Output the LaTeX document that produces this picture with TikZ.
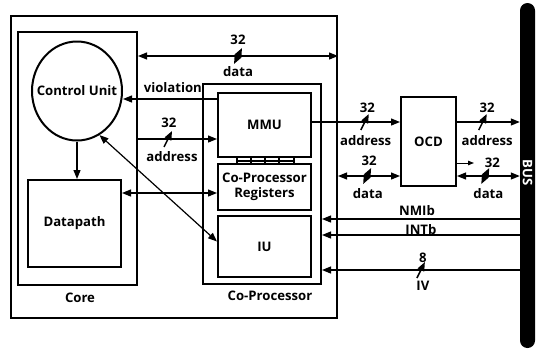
\documentclass[tikz,border=0pt]{standalone}
\usepackage{fontspec}
\setmainfont{Open Sans}
\usetikzlibrary{arrows.meta,shapes.geometric}

\begin{document}
\begin{tikzpicture}[x=1bp,y=-1bp,
      font=\fontsize{13.2}{15.5}\selectfont\bfseries,
      blk/.style={draw,line width=2bp,inner sep=0pt},
      ar/.style={line width=1.2bp,-{Triangle[length=9bp,width=7bp]}},
      dar/.style={line width=1.2bp,{Triangle[length=9bp,width=7bp]}-{Triangle[length=9bp,width=7bp]}},
      minitip/.style={line width=1bp,-{Triangle[length=6bp,width=4.5bp]}},
      slash/.pic={\draw[line width=1.5bp] (-4,8) -- (4,-8);}]
    \useasboundingbox (0,0) rectangle (536,351);
    % frames
    \node[blk,minimum width=326bp,minimum height=302bp] (sys) at (174,167) {};
    \node[blk,minimum width=119bp,minimum height=253bp] (core) at (77.5,158.5) {};
    \node[blk,minimum width=118bp,minimum height=200bp] (cop) at (262,184) {};
    \node (corel) at (80,298) {Core};
    \node (copl) at (270,296) {Co-Processor};
    % core blocks
    \node[blk,ellipse,minimum width=90bp,minimum height=99bp] (cu) at (77,91) {};
    \node (cul) at (cu.center) {Control Unit};
    \node[blk,minimum width=93bp,minimum height=87bp] (dp) at (74.5,223.5) {Datapath};
    % co-processor blocks
    \node[blk,minimum width=93bp,minimum height=64bp] (mmu) at (264.5,125) {MMU};
    \node[blk,minimum width=93bp,minimum height=46bp,align=center] (reg) at (264.5,187)
      {Co-Processor\\Registers};
    \node[blk,minimum width=93bp,minimum height=61bp] (iu) at (264.5,246.5) {IU};
    \foreach \x in {237,251,265,279,294} {
      \draw[line width=1.2bp] (mmu.south -| \x,0) -- (reg.north -| \x,0);}
    \draw[line width=1.2bp] (237,161) -- (294,161);
    % debugger and bus
    \node[blk,minimum width=55bp,minimum height=89bp] (ocd) at (428.5,141.5) {OCD};
    \node[fill=black,rounded corners=7.5bp,minimum width=15bp,minimum height=345bp,
          inner sep=0pt] (bus) at (527.5,175.5) {};
    \node[text=white,rotate=-90] (busl) at (527.5,173) {BUS};
    % signal levels
    \coordinate (yD) at (0,56);
    \coordinate (yV) at (0,99);
    \coordinate (yO) at (0,122);
    \coordinate (yA) at (0,139);
    \coordinate (yS) at (0,163);
    \coordinate (yE) at (0,176);
    \coordinate (yR) at (0,193);
    \coordinate (yN) at (0,219);
    \coordinate (yI) at (0,235);
    \coordinate (yQ) at (0,270);
    \coordinate (stub) at (474,163);
    % core side
    \draw[dar] (core.east |- yD) -- (sys.east |- yD) pic[pos=.5]{slash}
      node[pos=.5,yshift=16bp]{32} node[pos=.5,yshift=-16bp]{data};
    \draw[ar] (mmu.west |- yV) -- (cu.east |- yV)
      node[pos=.47,yshift=11bp]{violation};
    \draw[ar] (core.east |- yA) -- (mmu.west |- yA) pic[pos=.38]{slash}
      node[pos=.39,yshift=16bp]{32} node[pos=.43,yshift=-18bp]{address};
    \draw[dar] (cu.-63) -- (iu.174);
    \draw[ar] (cu.south) -- (dp.north -| cu.south);
    \draw[dar] (dp.east |- yR) -- (reg.west |- yR);
    % debugger side
    \draw[ar] (mmu.east |- yO) -- (ocd.west |- yO) pic[pos=.6]{slash}
      node[pos=.63,yshift=14bp]{32} node[pos=.61,yshift=-19bp]{address};
    \draw[dar] (sys.east |- yE) -- (ocd.west |- yE) pic[pos=.47]{slash}
      node[pos=.5,yshift=15bp]{32} node[pos=.48,yshift=-18bp]{data};
    \draw[ar] (ocd.east |- yO) -- (bus.west |- yO) pic[pos=.41]{slash}
      node[pos=.48,yshift=14bp]{32} node[pos=.48,yshift=-19bp]{address};
    \draw[minitip] (ocd.east |- yS) -- (stub) node[anchor=west,xshift=7bp]{32};
    \draw[dar] (ocd.east |- yE) -- (bus.west |- yE) pic[pos=.45]{slash}
      node[pos=.5,yshift=-18bp]{data};
    % interrupts
    \draw[ar] (bus.west |- yN) -- (cop.east |- yN) node[pos=.52,yshift=8bp]{NMIb};
    \draw[ar] (bus.west |- yI) -- (cop.east |- yI) node[pos=.5,yshift=5bp]{INTb};
    \draw[ar] (bus.west |- yQ) -- (cop.east |- yQ) pic[pos=.5]{slash}
      node[pos=.49,yshift=12bp]{8} node[pos=.49,yshift=-16bp]{IV};
  \end{tikzpicture}
\end{document}
